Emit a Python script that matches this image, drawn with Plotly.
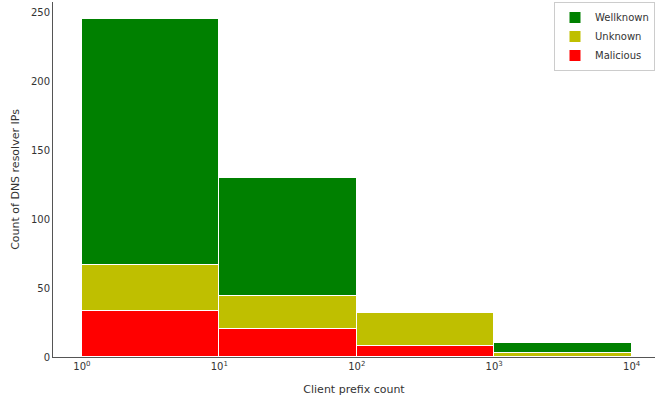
import plotly.graph_objects as go

# Histogram bins on client prefix count (decades), stacked by resolver class
bin_edges_exp = [0, 1, 2, 3, 4]
malicious = [33, 20, 8, 0]
unknown = [34, 24, 24, 3]
wellknown = [178, 86, 0, 7]
tick_exps = [0, 1, 2, 3, 4]
tick_labels = ["10<sup>%d</sup>" % k for k in tick_exps]

centers = [(a + b) / 2 for a, b in zip(bin_edges_exp[:-1], bin_edges_exp[1:])]
widths = [b - a for a, b in zip(bin_edges_exp[:-1], bin_edges_exp[1:])]

fig = go.Figure()
for name, vals, color in [("Malicious", malicious, "#ff0000"),
                          ("Unknown", unknown, "#bfbf00"),
                          ("Wellknown", wellknown, "#008000")]:
    fig.add_trace(go.Bar(
        x=centers, y=vals, width=widths, name=name,
        marker=dict(color=color, line=dict(color="white", width=1)),
    ))

fig.update_layout(
    barmode="stack",
    bargap=0,
    width=655, height=402,
    margin=dict(l=53, r=0, t=2, b=45),
    plot_bgcolor="white", paper_bgcolor="white",
    font=dict(family="DejaVu Sans", size=10, color="#333333"),
    legend=dict(
        traceorder="reversed",
        x=1.0, y=1.0, xanchor="right", yanchor="top",
        bordercolor="#cccccc", borderwidth=1, bgcolor="white",
        font=dict(size=10, color="#333333"),
        tracegroupgap=0, itemwidth=30,
    ),
    xaxis=dict(
        range=[-0.21, 4.17],
        tickvals=tick_exps, ticktext=tick_labels,
        showgrid=False, zeroline=False,
        showline=True, linecolor="#555555", linewidth=1,
        ticks="", tickfont=dict(size=10),
        title=dict(text="Client prefix count", standoff=14, font=dict(size=11)),
    ),
    yaxis=dict(
        range=[0, 257.25],
        tickvals=[0, 50, 100, 150, 200, 250],
        showgrid=False, zeroline=False,
        showline=True, linecolor="#555555", linewidth=1,
        ticks="", tickfont=dict(size=10),
        title=dict(text="Count of DNS resolver IPs", standoff=9, font=dict(size=11)),
    ),
)

fig.write_html("out.html")
